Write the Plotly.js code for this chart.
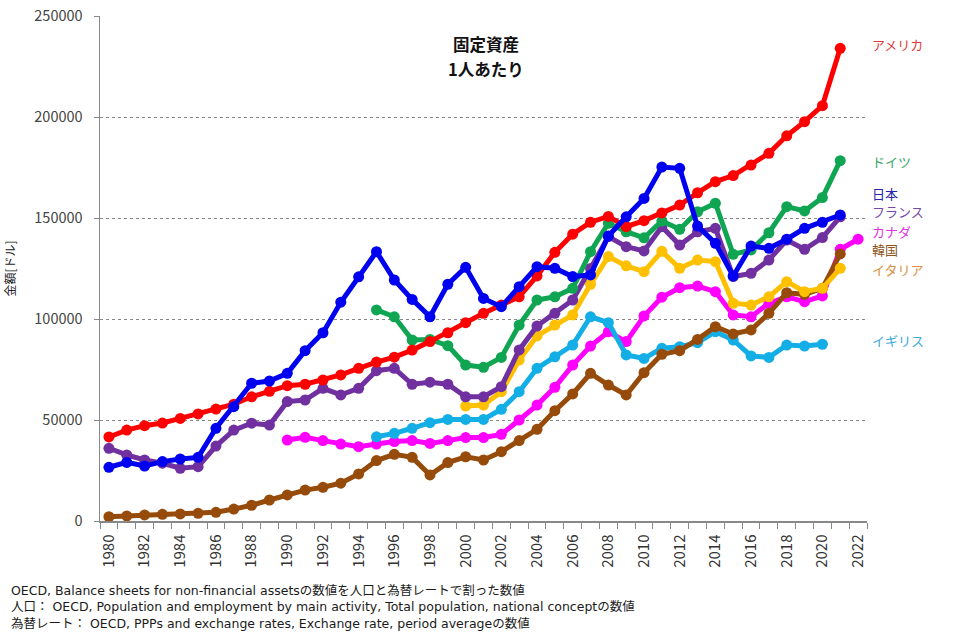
<!DOCTYPE html>
<html>
<head>
<meta charset="utf-8">
<script src="https://cdn.plot.ly/plotly-3.0.1.min.js"></script>
<style>html,body{margin:0;padding:0;background:#fff;}#chart{width:977px;height:639px;}</style>
</head>
<body>
<div id="chart"></div>
<script>
const years = [];
for (let y = 1980; y <= 2022; y++) years.push(y);

const usa = [41600,45000,47200,48500,50800,53000,55400,57800,61500,64200,67000,67700,69800,72300,75600,78700,81100,84600,88800,93200,98200,102800,106900,111000,121300,133000,142000,147900,150800,145700,148700,152500,156400,162500,168000,171000,176200,182000,190700,197700,205600,234000,null];
const japan = [26600,29000,27200,29400,30700,31500,45900,56600,68200,69300,73100,84300,93200,108300,120900,133300,119300,109700,101100,117200,125600,110200,106100,116000,125900,125100,121000,121800,141100,150600,159700,175200,174600,146000,137500,121300,136100,135000,139500,144900,147900,151500,null];
const germany = [null,null,null,null,null,null,null,null,null,null,null,null,null,null,null,104500,101100,89600,89900,86800,77200,76100,81000,97000,109400,111000,115200,133300,147400,143200,140200,148500,144400,153100,157300,132000,134200,142700,155600,153500,160100,178400,null];
const france = [36000,32700,30200,28600,26100,26900,37100,45000,48400,47500,59100,59900,65700,62400,65700,74400,75600,67700,68700,67700,61500,61500,66500,84700,96500,102800,109400,125000,140800,135800,133700,145700,136600,143200,144900,121000,122600,129200,139100,134500,140300,150600,null];
const italy = [null,null,null,null,null,null,null,null,null,null,null,null,null,null,null,null,null,null,null,null,56900,57400,64000,79700,91600,97000,102000,117200,130900,126300,123400,133500,125100,129200,128400,107800,106900,111000,118500,113500,115200,125100,null];
const canada = [null,null,null,null,null,null,null,null,null,null,40100,41400,39800,38100,36800,38100,39300,39800,38400,39800,41300,41300,42900,50000,57400,66200,77200,86600,93700,88800,101500,110800,115500,116300,113500,102000,101100,107800,111000,108600,111400,134500,139500];
const uk = [null,null,null,null,null,null,null,null,null,null,null,null,null,null,null,41700,43400,45900,48700,50300,50300,50300,55300,64000,75600,81300,87100,101100,98200,82200,80500,85500,86300,88300,93700,89600,81700,81000,87100,86600,87500,null,null];
const korea = [2100,2500,3000,3300,3500,3800,4300,5900,7800,10400,12900,15300,16700,18700,23300,29900,33000,31500,22800,28900,31800,30200,34300,39800,45400,54600,62900,73100,67300,62400,73400,82500,84300,89900,96200,92600,94600,102800,113000,112200,115200,132200,null];

const seriesNames = ["カナダ","イギリス","韓国","イタリア","フランス","ドイツ","アメリカ","日本"];
const seriesData = [canada, uk, korea, italy, france, germany, usa, japan];
const lineColors = ["#FF00FF","#14AEE6","#964B0A","#FFC000","#7030A0","#0FA552","#FF0000","#0000F0"];

const labelNames = ["アメリカ","ドイツ","日本","フランス","カナダ","韓国","イタリア","イギリス"];
const labelValues = [235800,177800,162000,153200,143200,134200,124300,89600];
const labelColors = ["#E03A3A","#3AA867","#2424A8","#7448A8","#E030E0","#8E5420","#D89040","#3AA8D8"];

const titleLine1 = "固定資産";
const titleLine2 = "1人あたり";
const yTitle = "金額[ドル]";
const notes = [
  "OECD, Balance sheets for non-financial assetsの数値を人口と為替レートで割った数値",
  "人口： OECD, Population and employment by main activity, Total population, national conceptの数値",
  "為替レート： OECD, PPPs and exchange rates, Exchange rate, period averageの数値"
];

const FONT = '"Noto Sans CJK JP", "Noto Sans", sans-serif';
const WIDEFONT = '"DejaVu Sans", "Noto Sans CJK JP", sans-serif';

const traces = seriesNames.map((n, i) => ({
  type: 'scatter', mode: 'lines+markers', name: n,
  x: years, y: seriesData[i],
  line: {color: lineColors[i], width: 5},
  marker: {color: lineColors[i], size: 11},
  connectgaps: false,
  hoverinfo: 'x+y+name'
}));

const annotations = labelNames.map((n, i) => ({
  text: n, xref: 'paper', yref: 'y', x: 1.004, y: labelValues[i],
  xanchor: 'left', yanchor: 'middle', showarrow: false,
  font: {family: FONT, size: 13, color: labelColors[i]}
}));
annotations.push({
  text: titleLine2, xref: 'paper', yref: 'paper', x: (486 - 100) / 767, y: (521 - 69) / 505,
  xanchor: 'center', yanchor: 'middle', showarrow: false,
  font: {family: FONT, size: 16.5, weight: 'bold', color: '#111'}
});
annotations.push({
  text: notes.join('<br>'), xref: 'paper', yref: 'paper', x: -0.118, y: (521 - 607) / 505,
  xanchor: 'left', yanchor: 'middle', align: 'left', showarrow: false,
  font: {family: WIDEFONT, size: 12.5, color: '#1a1a1a'}
});

const layout = {
  width: 977, height: 639,
  margin: {l: 100, r: 110, t: 16, b: 118},
  paper_bgcolor: '#fff', plot_bgcolor: '#fff',
  showlegend: false,
  font: {family: FONT, color: '#333'},
  title: {text: titleLine1, x: 486 / 977, xanchor: 'center', y: 1 - 45 / 639, yanchor: 'middle',
          font: {family: FONT, size: 16.5, weight: 'bold', color: '#111'}},
  xaxis: {
    type: 'linear', range: [1979.5, 2022.5], tick0: 1980, dtick: 2,
    tickangle: -90, ticks: 'outside', ticklen: 6, tickcolor: 'rgba(0,0,0,0)',
    minor: {tick0: 1979.5, dtick: 1, ticks: 'outside', ticklen: 6, tickcolor: '#888', showgrid: false},
    showgrid: false, zeroline: false, showline: true, linecolor: '#888', linewidth: 1.5,
    tickfont: {family: FONT, size: 15, color: '#333'}, fixedrange: true
  },
  yaxis: {
    range: [0, 250000], dtick: 50000, tickformat: 'd',
    ticks: 'outside', ticklen: 5, tickcolor: '#888', ticklabelstandoff: 8,
    showgrid: true, gridcolor: '#888', griddash: 'dot', gridwidth: 1,
    zeroline: false, showline: true, linecolor: '#888', linewidth: 1.5,
    tickfont: {family: FONT, size: 14.5, color: '#444'},
    title: {text: yTitle, standoff: 16, font: {family: FONT, size: 12, color: '#222'}},
    fixedrange: true
  },
  annotations: annotations
};

Plotly.newPlot('chart', traces, layout, {displayModeBar: false, staticPlot: true});
</script>
</body>
</html>
